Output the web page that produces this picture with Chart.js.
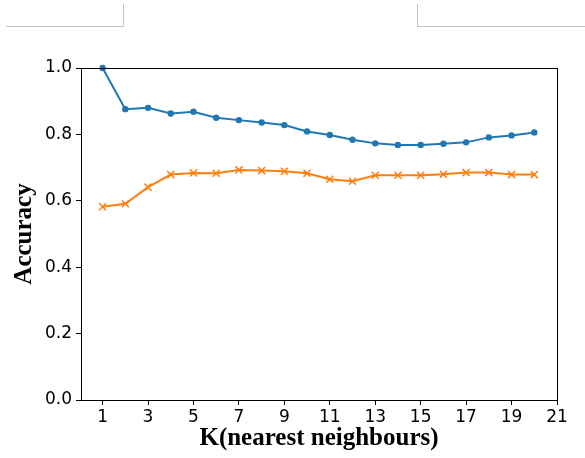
<!DOCTYPE html>
<html>
<head>
<meta charset="utf-8">
<script src="https://cdn.jsdelivr.net/npm/chart.js@4"></script>
<style>
  body { margin: 0; background: #fff; }
  #wrap { position: relative; width: 585px; height: 458px; }
  .edge { position: absolute; background: #c4c4c4; }
</style>
</head>
<body>
<div id="wrap">
  <div class="edge" style="left:6px;top:26px;width:118px;height:1px"></div>
  <div class="edge" style="left:123px;top:4px;width:1px;height:23px"></div>
  <div class="edge" style="left:417px;top:4px;width:1px;height:23px"></div>
  <div class="edge" style="left:417px;top:26px;width:168px;height:1px"></div>
  <canvas id="chart"></canvas>
</div>
<script>
// K values and the two accuracy curves
const kValues = [1, 2, 3, 4, 5, 6, 7, 8, 9, 10, 11, 12, 13, 14, 15, 16, 17, 18, 19, 20]
const trainAcc = [1.0, 0.876, 0.880, 0.863, 0.868, 0.850, 0.843, 0.836, 0.828, 0.809,
                  0.798, 0.784, 0.773, 0.768, 0.768, 0.772, 0.776, 0.791, 0.797, 0.806]
const testAcc = [0.582, 0.591, 0.641, 0.679, 0.684, 0.683, 0.693, 0.691, 0.689, 0.683,
                 0.665, 0.659, 0.677, 0.677, 0.677, 0.680, 0.685, 0.685, 0.679, 0.679]
const xTicks = [1, 3, 5, 7, 9, 11, 13, 15, 17, 19, 21]
const yTicks = [0, 0.2, 0.4, 0.6, 0.8, 1.0]

const toPoints = arr => arr.map((v, i) => ({ x: kValues[i], y: v }))

// box around the plot like matplotlib's frame
const frame = {
  id: 'frame',
  afterDatasetsDraw(chart) {
    const a = chart.chartArea
    const ctx = chart.ctx
    ctx.save()
    ctx.strokeStyle = '#000'
    ctx.lineWidth = 1
    ctx.strokeRect(a.left + 0.5, a.top + 0.5, a.right - a.left, a.bottom - a.top)
    ctx.restore()
  }
}

const tickFont = { family: 'DejaVu Sans', size: 17 }
const titleFont = { family: 'Liberation Serif', size: 25, weight: 'bold' }

new Chart(document.getElementById('chart').getContext('2d'), {
  type: 'line',
  data: {
    datasets: [
      {
        data: toPoints(trainAcc),
        borderColor: '#1f77b4',
        backgroundColor: '#1f77b4',
        borderWidth: 2,
        pointStyle: 'circle',
        pointRadius: 2.2,
        clip: false
      },
      {
        data: toPoints(testAcc),
        borderColor: '#ff7f0e',
        backgroundColor: '#ff7f0e',
        borderWidth: 2,
        pointStyle: 'crossRot',
        pointRadius: 5,
        pointBorderWidth: 1.5,
        clip: false
      }
    ]
  },
  options: {
    responsive: true,
    maintainAspectRatio: false,
    animation: false,
    layout: { padding: { top: 68, right: 28, left: 10, bottom: 4 } },
    plugins: { legend: { display: false }, tooltip: { enabled: false } },
    scales: {
      x: {
        type: 'linear',
        min: 0.05,
        max: 21,
        afterBuildTicks: s => { s.ticks = xTicks.map(v => ({ value: v })) },
        afterFit: s => { s.height = 54 },
        grid: { drawOnChartArea: false, drawTicks: true, tickLength: 5, color: '#000' },
        border: { display: true, color: '#000' },
        ticks: { font: tickFont, color: '#000', padding: 2, maxRotation: 0 },
        title: { display: true, text: 'K(nearest neighbours)', font: titleFont, color: '#000', padding: { top: 0, bottom: 0 } }
      },
      y: {
        min: 0,
        max: 1.0,
        afterBuildTicks: s => { s.ticks = yTicks.map(v => ({ value: v })) },
        afterFit: s => { s.width = 71 },
        grid: { drawOnChartArea: false, drawTicks: true, tickLength: 5, color: '#000' },
        border: { display: true, color: '#000' },
        ticks: { font: tickFont, color: '#000', padding: 4, callback: v => v.toFixed(1) },
        title: { display: true, text: 'Accuracy', font: titleFont, color: '#000', padding: { top: 0, bottom: 0 } }
      }
    }
  },
  plugins: [frame]
})
</script>
</body>
</html>
